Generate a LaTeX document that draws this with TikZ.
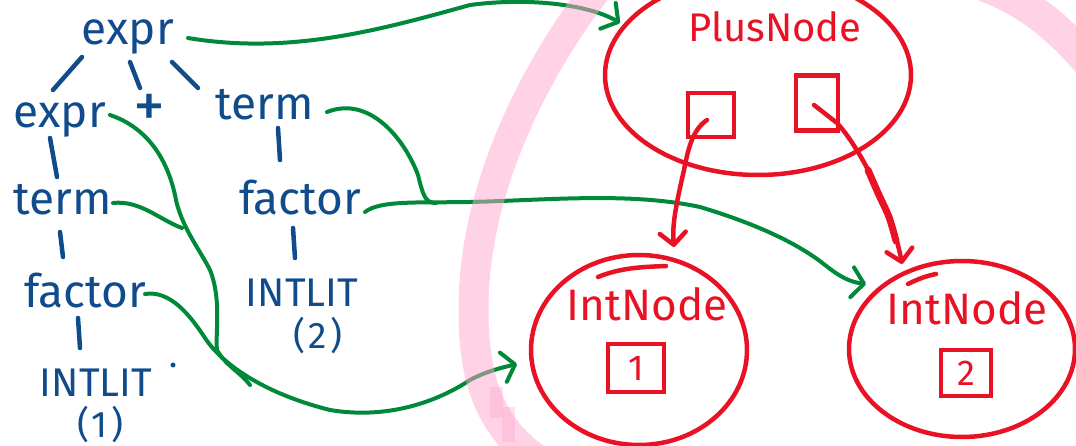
\documentclass[tikz,border=0pt]{standalone}
\usepackage{fontspec}
\setmainfont{Fira Sans}
\usetikzlibrary{shapes.geometric,arrows.meta,calc}
\definecolor{treeblue}{RGB}{16,75,140}
\definecolor{astred}{RGB}{232,18,36}
\definecolor{mapgreen}{RGB}{0,137,56}
\definecolor{markpink}{RGB}{255,165,205}
\begin{document}
\begin{tikzpicture}[x=1pt,y=-1pt,
  sym/.style={text=treeblue, font=\fontsize{46}{50}\selectfont, inner sep=0pt, anchor=base},
  lit/.style={sym, font=\fontsize{40}{44}\selectfont},
  litval/.style={sym, font=\fontsize{37}{40}\selectfont},
  treeedge/.style={draw=treeblue, line width=4.5pt, line cap=round},
  mapline/.style={draw=mapgreen, line width=4pt, line cap=round},
  maparrow/.style={mapline, -{Straight Barb[length=12pt,width=30pt,round]}},
  astnode/.style={ellipse, draw=astred, line width=4.5pt, inner sep=0pt},
  astlabel/.style={text=astred, font=\fontsize{44}{48}\selectfont, inner sep=0pt, anchor=base},
  field/.style={draw=astred, line width=4.5pt, inner sep=0pt, text=astred, font=\fontsize{36}{40}\selectfont},
  redstroke/.style={draw=astred, line width=4.5pt, line cap=round},
  pointer/.style={redstroke, -{Straight Barb[length=12pt,width=26pt,round]}},
  highlight/.style={draw=markpink, line width=30pt, opacity=0.5}
]
\useasboundingbox (0,0) rectangle (1076,446);

% ---------- parse tree ----------
\node[sym] (e0) at (128,45) {expr};
\node[sym] (e1) at (60,128) {expr};
\node[sym, font=\fontsize{64}{68}\selectfont] (pl) at (149,128) {+};
\node[sym] (t1) at (265,120) {term};
\node[sym] (t0) at (63,215) {term};
\node[sym] (f1) at (300,215) {factor};
\node[sym] (f0) at (85,308) {factor};
\node[lit] (i2) at (302,307) {INTLIT};
\node[litval] (v2) at (318,348) {(\kern3pt2\kern3pt)};
\node[lit] (i1) at (96,396) {INTLIT};
\node[litval] (v1) at (100,437) {(\kern3pt1\kern3pt)};
\fill[treeblue] (173,365) circle (2.5);

\draw[treeedge] ($(e0.base)+(-46,12)$) -- ($(e1.base)+(-7,-38)$);
\draw[treeedge] ($(e0.base)+(2,17)$) -- ($(pl.base)+(-9,-40)$);
\draw[treeedge] ($(e0.base)+(44,17)$) -- ($(t1.base)+(-67,-32)$);
\draw[treeedge] ($(e1.base)+(-10,10)$) -- ($(t0.base)+(-6,-38)$);
\draw[treeedge] ($(t0.base)+(-3,17)$) -- ($(f0.base)+(-22,-51)$);
\draw[treeedge] ($(f0.base)+(-7,10)$) -- ($(i1.base)+(-16,-48)$);
\draw[treeedge] ($(t1.base)+(13,8)$) -- ($(f1.base)+(-20,-55)$);
\draw[treeedge] ($(f1.base)+(-7,13)$) -- ($(i2.base)+(-7,-49)$);

% ---------- AST nodes ----------
\node[astnode, minimum width=306, minimum height=200] (plus) at (758,75) {};
\node[astnode, minimum width=216, minimum height=190] (n1) at (639,350) {};
\node[astnode, minimum width=226, minimum height=176] (n2) at (962,349) {};

% ---------- mapping from parse tree to AST ----------
\coordinate (m1) at (436,203);
\coordinate (m2) at (182,228);
\coordinate (m3) at (250,385);
\draw[maparrow] ($(e0.base)+(60,-7)$) .. controls (290,55) and (380,30) .. (470,5)
  .. controls (530,-3) and (590,5) .. ($(plus)+(-138,-52)$);
\draw[mapline] ($(t1.base)+(62,-8)$) .. controls (370,95) and (405,140) .. (418,175)
  .. controls (423,195) and (425,203) .. (m1);
\draw[maparrow] ($(f1.base)+(65,-3)$) .. controls (380,200) and (420,203) .. (470,202)
  .. controls (550,200) and (630,192) .. (700,207)
  .. controls (760,225) and (800,245) .. (825,265)
  .. controls (840,277) and (850,282) .. ($(n2)+(-96,-65)$);
\draw[mapline] ($(e1.base)+(50,-13)$) .. controls (140,125) and (165,150) .. (175,195)
  .. controls (180,225) and (200,250) .. (210,270)
  .. controls (222,300) and (215,335) .. (217,350)
  .. controls (225,365) and (240,372) .. (m3);
\draw[mapline] ($(t0.base)+(50,-12)$) .. controls (140,200) and (160,220) .. (m2);
\draw[maparrow] ($(f0.base)+(60,-14)$) .. controls (170,290) and (190,315) .. (205,338)
  .. controls (225,368) and (270,395) .. (330,410)
  .. controls (390,420) and (440,400) .. (470,380)
  .. controls (485,372) and (500,368) .. ($(n1)+(-122,14)$);

% ---------- highlight strokes ----------
\draw[highlight] (600,-15) .. controls (545,55) and (480,170) .. (474,290)
  .. controls (470,380) and (490,430) .. (545,465);
\draw[highlight, line width=32pt] (975,-18) .. controls (1010,-5) and (1045,10) .. (1095,70);
\fill[markpink, opacity=0.35] (490,387) rectangle (503,418);
\fill[markpink, opacity=0.35] (502,407) rectangle (515,442);

% ---------- AST contents ----------
\node[astlabel, font=\fontsize{40}{44}\selectfont] (plusname) at (775,42) {PlusNode};
\node[astlabel] (n1name) at (647,320) {IntNode};
\node[astlabel] (n2name) at (967,324) {IntNode};
\node[field, minimum width=46, minimum height=44] (left) at (711,115) {};
\node[field, minimum width=42, minimum height=55] (right) at (817,103) {};
\node[field, minimum width=56, minimum height=48] (val1) at (636,368) {1};
\node[field, minimum width=50, minimum height=46] (val2) at (966,373) {2};
% overlapping ends of the hand-drawn outlines
\draw[redstroke] (598,277) .. controls (620,268) and (640,267) .. (666,266);
\draw[redstroke] (908,284) .. controls (918,279) and (926,276) .. (936,274);

\draw[pointer] ($(left)+(-4,5)$) .. controls (692,130) and (688,150) .. (684,170)
  .. controls (676,205) and (672,225) .. ($(n1)+(35,-103)$);
\draw[pointer] ($(right)+(-3,2)$) -- (837,123) .. controls (862,150) and (893,215) .. ($(n2)+(-60,-85)$);
\draw[redstroke, line width=7pt] plot[smooth] coordinates {(868,170) (878,193) (889,217) (896,241)};
\end{tikzpicture}
\end{document}
